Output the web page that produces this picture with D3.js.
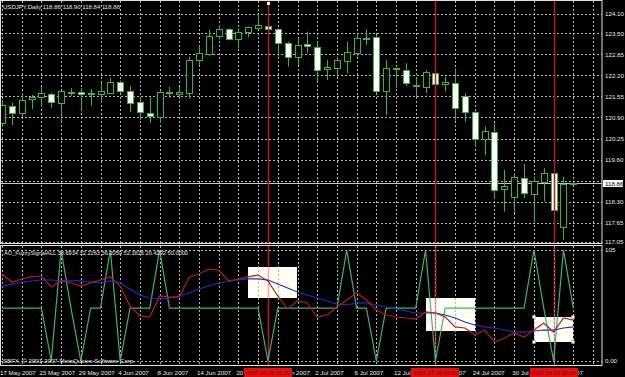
<!DOCTYPE html>
<html><head><meta charset="utf-8">
<script src="https://cdn.jsdelivr.net/npm/d3@7"></script>
<style>html,body{margin:0;padding:0;background:#000;overflow:hidden}</style>
</head><body><svg id="c" width="625" height="377"></svg>
<script>
// ---------- DATA ----------
const symbol = "USDJPY,Daily";
const dates = ["2007.05.17","2007.05.18","2007.05.21","2007.05.22","2007.05.23","2007.05.24","2007.05.25","2007.05.28","2007.05.29","2007.05.30",
"2007.05.31","2007.06.01","2007.06.04","2007.06.05","2007.06.06","2007.06.07","2007.06.08","2007.06.11","2007.06.12","2007.06.13",
"2007.06.14","2007.06.15","2007.06.18","2007.06.19","2007.06.20","2007.06.21","2007.06.22","2007.06.25","2007.06.26","2007.06.27",
"2007.06.28","2007.06.29","2007.07.02","2007.07.03","2007.07.04","2007.07.05","2007.07.06","2007.07.09","2007.07.10","2007.07.11",
"2007.07.12","2007.07.13","2007.07.16","2007.07.17","2007.07.18","2007.07.19","2007.07.20","2007.07.23","2007.07.24","2007.07.25",
"2007.07.26","2007.07.27","2007.07.30","2007.07.31","2007.08.01","2007.08.02","2007.08.03","2007.08.06","2007.08.07"];
const open  = [120.73,121.26,121.05,121.46,121.53,121.63,121.34,121.67,121.70,121.64,121.62,121.67,122.01,121.72,121.37,121.05,120.92,121.67,121.64,121.67,
122.66,122.85,123.40,123.63,123.32,123.52,123.66,123.73,123.63,123.21,122.76,123.16,123.09,122.39,122.42,122.66,122.88,123.35,123.38,121.70,
122.42,122.37,121.90,121.85,122.29,121.96,121.96,121.56,121.08,120.23,120.46,118.68,118.43,119.02,118.56,118.91,119.19,117.52,118.86];
const high  = [121.44,121.36,121.66,121.60,121.84,121.66,121.72,121.81,121.81,121.78,121.98,122.12,122.04,121.87,121.50,121.54,121.73,121.84,121.85,122.78,
123.11,123.61,123.76,123.66,123.66,123.71,124.10,123.79,123.66,123.24,123.35,123.55,123.24,122.68,122.78,123.24,123.50,123.63,123.45,122.68,
122.43,122.58,122.11,122.37,122.37,122.16,122.42,121.65,121.13,120.62,120.72,119.28,119.17,119.46,119.07,119.33,119.34,119.07,118.90];
const low   = [120.61,120.67,120.92,121.16,121.22,121.19,120.76,121.56,121.13,121.26,121.35,121.66,121.66,121.07,120.82,120.73,120.73,121.50,121.49,121.49,
122.52,122.80,123.32,123.30,123.04,123.38,123.63,123.61,122.78,122.47,122.52,122.90,122.01,122.06,122.16,122.27,122.78,123.14,121.66,120.98,
121.81,121.87,121.52,121.65,121.87,121.70,120.80,120.77,120.00,119.74,118.40,117.99,117.94,118.40,117.63,118.30,117.98,117.11,118.84];
const close = [121.29,121.05,121.44,121.52,121.66,121.38,121.72,121.70,121.63,121.65,121.72,122.01,121.73,121.34,121.05,120.96,121.70,121.68,121.70,122.68,
122.88,123.42,123.63,123.32,123.53,123.69,123.76,123.63,123.21,122.78,123.14,123.09,122.37,122.45,122.68,122.93,123.35,123.34,121.70,122.42,
122.39,121.98,121.87,122.32,121.94,122.01,121.18,121.05,120.23,120.49,118.66,118.78,119.05,118.57,118.95,119.19,118.04,118.84,118.86];
const bid = 118.86;
const priceTicks = [124.10,123.50,122.85,122.20,121.55,120.90,120.25,119.60,118.95,118.30,117.65,117.05];
const priceTickLabels = ["124.10","123.50","122.85","122.20","121.55","120.90","120.25","119.60","","118.30","117.65","117.05"];
// indicator AO_FuzzySignalALL
const redSeries  = [82.3,74.7,77.6,79.5,80.4,70.0,75.7,73.8,70.9,73.8,76.6,79.5,70.9,52.0,42.6,41.6,61.5,60.5,60.5,79.5,
82.3,87.0,86.1,75.7,77.6,79.5,81.3,75.7,61.5,49.2,56.8,54.9,41.6,43.5,51.1,57.7,64.3,57.7,48.2,43.5,
41.6,40.7,39.7,46.4,45.4,41.6,32.2,31.2,24.6,29.3,18.0,21.8,26.5,22.7,29.3,35.9,27.4,40.7,38.69];
const blueSeries = [70.9,72.8,74.7,75.7,76.6,76.6,75.7,75.7,75.7,74.7,73.8,75.7,73.8,68.1,62.4,59.6,58.6,59.6,61.5,64.3,
68.1,70.9,73.8,75.7,76.6,77.6,77.6,76.6,72.8,69.1,65.3,62.4,59.6,56.8,53.9,53.0,54.9,54.9,53.0,51.1,
49.2,47.3,45.4,45.4,45.4,43.5,40.7,36.9,34.1,32.2,31.2,29.3,27.4,27.4,28.4,29.3,29.3,31.2,32.23];
const greenSeries = [50,50,50,50,50,0,105,50,0,50,50,105,0,50,50,50,105,50,50,50,
50,50,50,50,50,50,50,0,50,50,50,50,50,50,50,105,50,50,0,50,
50,50,50,105,0,50,50,50,50,50,50,50,50,50,105,50,0,105,50];
const indHeader = "AO_FuzzySignalALL 38.6934 32.2263 36.2059 52.1826 20.4292 50.0000";
const indTicks = [105, 0];
const indTickLabels = ["105", "0.00"];
const vlineDates = ["2007.06.25","2007.07.18","2007.08.03"];
const boxFrom = ["2007.06.21","2007.07.17","2007.08.01"];
const boxTo   = ["2007.06.28","2007.07.24","2007.08.07"];
const boxTop  = [88.9, 59.6, 41.6];
const boxBottom = [59.6, 28.4, 18.0];
const copyright = "SBFX, \u00a9 2001-2007 MetaQuotes Software Corp.";

// ---------- DRAW ----------
const W = 625, H = 377;
const FONT = "'Liberation Sans', Arial, sans-serif";
const GRID = "#b4b4b4", CANDLE = "#3cb43c", FRAME = "#e0e0e0", VRED = "#b41e1e";
const svg = d3.select("#c");
svg.append("rect").attr("width", W).attr("height", H).attr("fill", "#000");

const idx = d3.range(dates.length);
const x = d3.scaleLinear().domain([0, dates.length - 1]).range([2, 573.3]);
const y = d3.scaleLinear().domain([117.05, 124.10]).range([242, 14]);
const yi = d3.scaleLinear().domain([0, 105]).range([361, 250]);
const px = v => Math.round(v) + 0.5;
const di = d => dates.indexOf(d);

const defs = svg.append("defs");
defs.append("clipPath").attr("id", "cm").append("rect").attr("x", 1).attr("y", 1).attr("width", 601).attr("height", 242.5);
defs.append("clipPath").attr("id", "ci").append("rect").attr("x", 1).attr("y", 246).attr("width", 601).attr("height", 119.5);
const gm = svg.append("g").attr("clip-path", "url(#cm)");
const gi = svg.append("g").attr("clip-path", "url(#ci)");

const gridIdx = d3.range(0, 61, 2);
// main grid
gm.selectAll(".vg").data(gridIdx).join("line")
  .attr("x1", d => px(x(d))).attr("x2", d => px(x(d))).attr("y1", 1).attr("y2", 244)
  .attr("stroke", GRID).attr("stroke-dasharray", "2,2");
gm.selectAll(".hg").data(priceTicks).join("line")
  .attr("x1", 1).attr("x2", 602).attr("y1", d => px(y(d))).attr("y2", d => px(y(d)))
  .attr("stroke", GRID).attr("stroke-dasharray", "2,2");
// bid line
gm.append("line").attr("x1", 1).attr("x2", 602).attr("y1", px(y(bid))).attr("y2", px(y(bid)))
  .attr("stroke", "#c8c8c8");
// candles
gm.selectAll(".wick").data(idx).join("line")
  .attr("x1", i => px(x(i))).attr("x2", i => px(x(i)))
  .attr("y1", i => y(high[i])).attr("y2", i => y(low[i]))
  .attr("stroke", CANDLE);
gm.selectAll(".body").data(idx).join("rect")
  .attr("x", i => Math.round(x(i)) - 2.5).attr("width", 6)
  .attr("y", i => Math.round(y(Math.max(open[i], close[i]))) + 0.5)
  .attr("height", i => Math.max(1, Math.round(Math.abs(y(open[i]) - y(close[i])))))
  .attr("fill", i => close[i] >= open[i] ? "#000" : "#fff")
  .attr("stroke", CANDLE);
// vertical lines main
gm.selectAll(".vl").data(vlineDates).join("line")
  .attr("x1", d => px(x(di(d)))).attr("x2", d => px(x(di(d)))).attr("y1", 1).attr("y2", 244)
  .attr("stroke", VRED).attr("stroke-width", 1.5);
gm.append("rect").attr("x", Math.round(x(di(vlineDates[0]))) - 1).attr("y", 2).attr("width", 3).attr("height", 3).attr("fill", "#fff");

// indicator
gi.selectAll(".vl").data(vlineDates).join("line")
  .attr("x1", d => px(x(di(d)))).attr("x2", d => px(x(di(d)))).attr("y1", 246).attr("y2", 366)
  .attr("stroke", VRED).attr("stroke-width", 1.5);
gi.selectAll(".box").data(boxFrom).join("rect")
  .attr("x", (d, k) => Math.round(x(di(d)))).attr("width", (d, k) => Math.round(x(di(boxTo[k])) - x(di(d))))
  .attr("y", (d, k) => Math.round(yi(boxTop[k]))).attr("height", (d, k) => Math.round(yi(boxBottom[k]) - yi(boxTop[k])))
  .attr("fill", "#fffff2");
gi.selectAll(".vg").data(gridIdx).join("line")
  .attr("x1", d => px(x(d))).attr("x2", d => px(x(d))).attr("y1", 246).attr("y2", 366)
  .attr("stroke", GRID).attr("stroke-dasharray", "2,2");
gi.selectAll(".hg").data(indTicks).join("line")
  .attr("x1", 1).attr("x2", 602).attr("y1", d => px(yi(d))).attr("y2", d => px(yi(d)))
  .attr("stroke", GRID).attr("stroke-dasharray", "2,2");
gi.selectAll(".vl2").data(vlineDates).join("line")
  .attr("x1", d => px(x(di(d)))).attr("x2", d => px(x(di(d)))).attr("y1", 246).attr("y2", 366)
  .attr("stroke", VRED).attr("stroke-width", 1.5).attr("opacity", 0.35);
const ln = s => d3.line().x(i => x(i)).y(i => yi(s[i]))(idx);
gi.append("path").attr("d", ln(greenSeries)).attr("fill", "none").attr("stroke", "#3cb371").attr("stroke-width", 1.2);
gi.append("path").attr("d", ln(blueSeries)).attr("fill", "none").attr("stroke", "#2828c8").attr("stroke-width", 1.2);
gi.append("path").attr("d", ln(redSeries)).attr("fill", "none").attr("stroke", "#b41e1e").attr("stroke-width", 1.2);
// selected box handles
const hk = 2;
[[boxFrom[hk], boxTop[hk]], [boxTo[hk], boxTop[hk]], [boxFrom[hk], boxBottom[hk]], [boxTo[hk], boxBottom[hk]]].forEach(([d, v]) => {
  gi.append("rect").attr("x", Math.round(x(di(d))) - 1.5).attr("y", Math.round(yi(v)) - 1.5).attr("width", 3).attr("height", 3)
    .attr("fill", "#fff").attr("stroke", "#888").attr("stroke-width", 0.5);
});

// frames
svg.append("rect").attr("x", 0.5).attr("y", 0.5).attr("width", 601.5).attr("height", 243).attr("fill", "none").attr("stroke", FRAME);
svg.append("rect").attr("x", 0.5).attr("y", 245.5).attr("width", 601.5).attr("height", 120).attr("fill", "none").attr("stroke", FRAME);

// texts
const txt = (g, s, xx, yy, opt = {}) => {
  const t = g.append("text").attr("x", xx).attr("y", yy).text(s)
    .attr("font-family", FONT).attr("font-size", opt.size || 6.2).attr("fill", opt.fill || "#e8e8e8");
  if (opt.len) t.attr("textLength", opt.len).attr("lengthAdjust", "spacingAndGlyphs");
  if (opt.anchor) t.attr("text-anchor", opt.anchor);
  return t;
};
txt(svg, symbol + "  " + [open, high, low, close].map(a => a[a.length - 1].toFixed(2)).join(" "), 3, 8.6, {len: 117});
txt(svg, indHeader, 4, 254.6, {len: 184});
txt(svg, copyright, 3, 363.4, {len: 132});
// price labels
priceTicks.forEach((p, k) => { if (priceTickLabels[k]) txt(svg, priceTickLabels[k], 605, y(p) + 2.2); });
svg.append("rect").attr("x", 603).attr("y", Math.round(y(bid)) - 3).attr("width", 20).attr("height", 7).attr("fill", "#fff");
txt(svg, bid.toFixed(2), 605, y(bid) + 2.2, {fill: "#000"});
indTicks.forEach((v, k) => txt(svg, indTickLabels[k], 605, yi(v) + 2.2));
// date labels
const parse = d3.timeParse("%Y.%m.%d"), fmt = d3.timeFormat("%-d %b %Y");
const labelIdx = d3.range(0, dates.length, 4);
labelIdx.forEach(i => txt(svg, fmt(parse(dates[i])), Math.max(0, x(i) - 2), 375));
vlineDates.forEach(d => {
  const cx = x(di(d));
  svg.append("rect").attr("x", Math.round(cx) - 24).attr("y", 368).attr("width", 48).attr("height", 9).attr("fill", "#e01010");
  txt(svg, d + " 00:00", cx, 375, {anchor: "middle", fill: "#900000", len: 44});
});
</script></body></html>
